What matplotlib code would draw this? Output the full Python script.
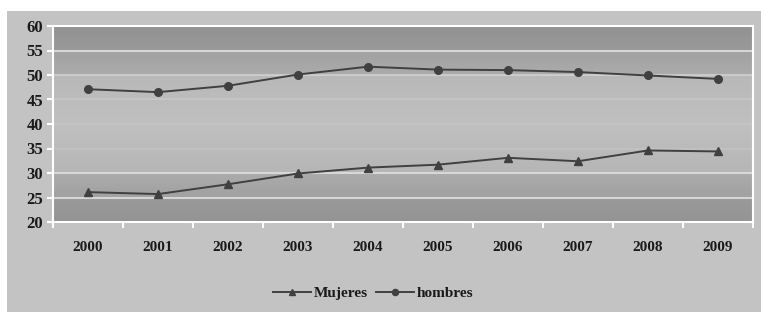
import numpy as np
import matplotlib
matplotlib.use("Agg")
import matplotlib.pyplot as plt
from matplotlib.patches import Rectangle

years = ["2000", "2001", "2002", "2003", "2004", "2005", "2006", "2007", "2008", "2009"]
mujeres = [26.1, 25.7, 27.7, 29.9, 31.1, 31.7, 33.1, 32.4, 34.6, 34.4]
hombres = [47.1, 46.5, 47.8, 50.1, 51.7, 51.1, 51.0, 50.6, 49.9, 49.2]
yticks = [20, 25, 30, 35, 40, 45, 50, 55, 60]

plt.rcParams['font.family'] = ['Liberation Serif', 'DejaVu Serif']
plt.rcParams['font.weight'] = 'bold'

W, H = 761, 312
fig = plt.figure(figsize=(W / 100, H / 100), dpi=100)
fig.patch.set_facecolor('white')
bg = Rectangle((7 / W, 0), 1 - 7 / W, 1 - 11 / H, transform=fig.transFigure,
               facecolor='#c3c3c3', edgecolor='none', zorder=-5)
fig.add_artist(bg)

ax = fig.add_axes([53 / W, (H - 222) / H, 700 / W, 196 / H])
ax.set_zorder(1)
ax.set_facecolor('#b5b5b5')

x = np.arange(len(years))
ax.set_xlim(-0.5, len(years) - 0.5)
ax.set_ylim(20, 60)

# vertical banded gradient background
yy = np.linspace(20, 60, 400)
prof = np.interp(yy, [20, 24.99, 25.01, 29.99, 30.01, 40, 49.99, 50.01, 54.99, 55.01, 60],
                 [0.58, 0.60, 0.63, 0.67, 0.71, 0.75, 0.72, 0.67, 0.63, 0.60, 0.57])
grad = prof[:, None] * np.ones((1, 2))
ax.imshow(grad, extent=[-0.5, len(years) - 0.5, 20, 60], origin='lower', aspect='auto',
          cmap='gray', vmin=0, vmax=1, zorder=0, interpolation='nearest')

for yv, a in zip([25, 30, 35, 40, 45, 50, 55], [0.9, 0.9, 0.2, 0.2, 0.3, 0.6, 0.9]):
    ax.axhline(yv, color='#dcdcdc', lw=1.5, alpha=a, zorder=1)

lc = '#404040'
ax.plot(x, mujeres, color=lc, lw=1.4, marker='^', ms=5.5, zorder=3, label='Mujeres')
ax.plot(x, hombres, color=lc, lw=1.4, marker='o', ms=5.5, zorder=3, label='hombres')

for s in ax.spines.values():
    s.set_color('white')
    s.set_linewidth(1.5)

ax.set_yticks(yticks)
ax.set_yticklabels([str(v) for v in yticks])
ax.set_xticks(x)
ax.set_xticklabels(years)
ax.set_xticks(np.arange(-0.5, len(years)), minor=True)
ax.tick_params(axis='x', which='major', length=0, pad=14, labelsize=11, colors='#1a1a1a')
ax.tick_params(axis='x', which='minor', length=4, width=1.5, color='white', direction='out')
ax.tick_params(axis='y', length=4, width=1.5, color='white', pad=3, labelsize=12, labelcolor='#1a1a1a')
for lab in ax.get_xticklabels() + ax.get_yticklabels():
    lab.set_fontweight('bold')

leg = fig.legend(loc='center', bbox_to_anchor=(373 / W, (H - 293) / H), ncol=2, frameon=False,
                 handlelength=2.5, columnspacing=0.5, handletextpad=0.2, markerscale=0.8,
                 prop={'family': 'Liberation Serif', 'weight': 'bold', 'size': 11})
for txt in leg.get_texts():
    txt.set_color('#1a1a1a')

fig.savefig('out.png', dpi=100)
